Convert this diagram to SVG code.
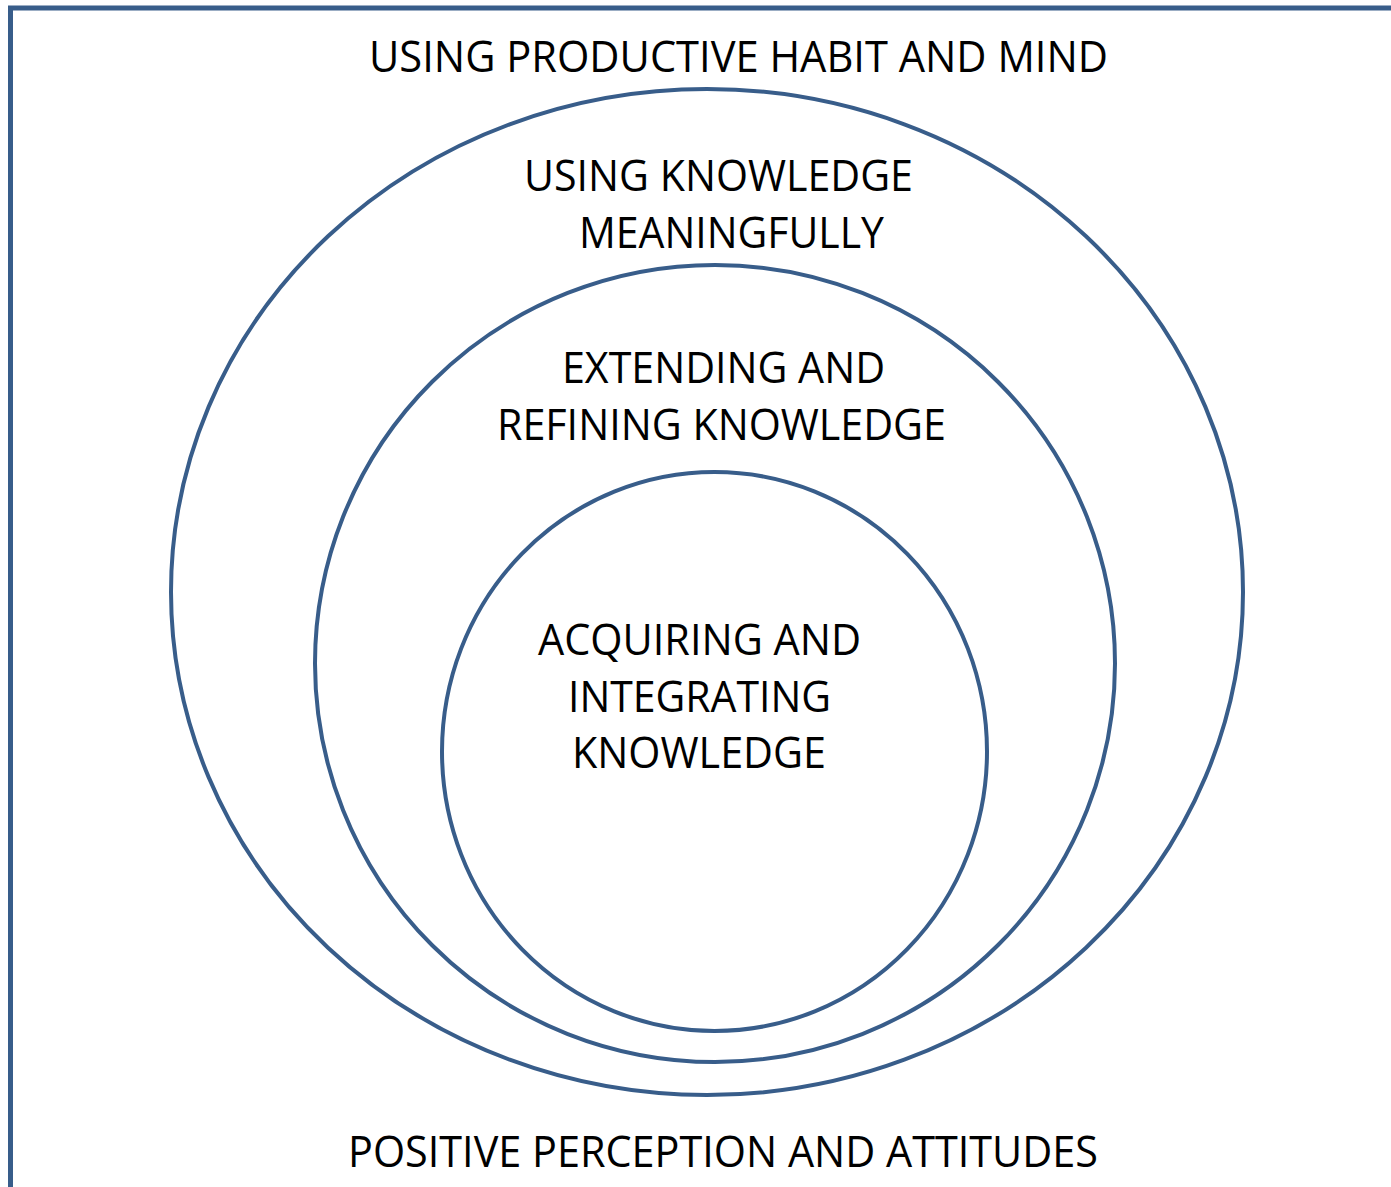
<svg xmlns="http://www.w3.org/2000/svg" width="1391" height="1187" viewBox="0 0 1391 1187">
<style>
.ring{fill:none;stroke:#385D8A;stroke-width:4}
.frame{fill:none;stroke:#385D8A;stroke-width:5}
text{font-family:"Open Sans","Noto Sans","Liberation Sans",sans-serif;font-size:43px;fill:#000}
</style>
<rect width="1391" height="1187" fill="#fff"/>
<g id="frame"><path class="frame" d="M10.5,1190 V8 H1395"/></g>
<g id="outer-label">
<text x="369" y="72" textLength="739" lengthAdjust="spacingAndGlyphs">USING PRODUCTIVE HABIT AND MIND</text>
</g>
<g id="bottom-label">
<text x="348" y="1167" textLength="750" lengthAdjust="spacingAndGlyphs">POSITIVE PERCEPTION AND ATTITUDES</text>
</g>
<g id="ring-outer">
<ellipse class="ring" cx="707" cy="592" rx="536" ry="503"/>
<text x="524" y="191" textLength="389" lengthAdjust="spacingAndGlyphs">USING KNOWLEDGE</text>
<text x="579" y="248" textLength="305" lengthAdjust="spacingAndGlyphs">MEANINGFULLY</text>
</g>
<g id="ring-middle">
<ellipse class="ring" cx="715" cy="663.5" rx="400" ry="398.5"/>
<text x="562" y="383" textLength="323" lengthAdjust="spacingAndGlyphs">EXTENDING AND</text>
<text x="497" y="440" textLength="449" lengthAdjust="spacingAndGlyphs">REFINING KNOWLEDGE</text>
</g>
<g id="ring-inner">
<ellipse class="ring" cx="714.5" cy="751.5" rx="272.5" ry="279.5"/>
<text x="538" y="655" textLength="323" lengthAdjust="spacingAndGlyphs">ACQUIRING AND</text>
<text x="568" y="712" textLength="263" lengthAdjust="spacingAndGlyphs">INTEGRATING</text>
<text x="572" y="768" textLength="254" lengthAdjust="spacingAndGlyphs">KNOWLEDGE</text>
</g>
<g id="connectors"></g>
</svg>
